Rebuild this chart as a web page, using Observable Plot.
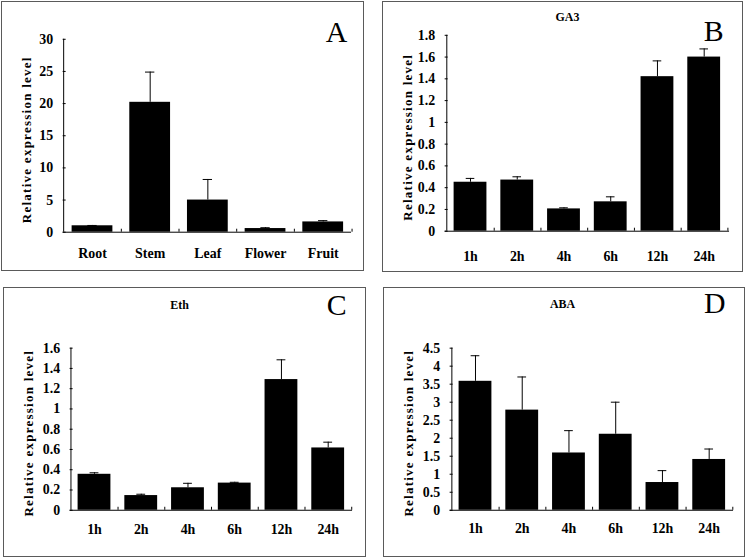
<!DOCTYPE html>
<html>
<head>
<meta charset="utf-8">
<script src="https://cdn.jsdelivr.net/npm/d3@7"></script>
<script src="https://cdn.jsdelivr.net/npm/@observablehq/plot@0.6"></script>
<style>
  html, body { margin: 0; padding: 0; background: #fff; }
  #root { position: relative; width: 747px; height: 558px; overflow: hidden; background: #fff; }
  .panel { position: absolute; border: 1px solid #5a5a5a; box-sizing: border-box; }
  .panel svg { position: absolute; left: -1px; top: -1px; overflow: visible; }
  .panel svg text { font-family: 'Liberation Serif', 'Times New Roman', serif; }
</style>
</head>
<body>
<div id="root"></div>
<script>
// ---- Data ----
const tissues = ["Root", "Stem", "Leaf", "Flower", "Fruit"];
const tissueValues = [1.0, 20.2, 5.0, 0.57, 1.6];
const tissueUpper = [1.05, 24.9, 8.2, 0.7, 1.8];
const tissueTicks = [0, 5, 10, 15, 20, 25, 30];

const times = ["1h", "2h", "4h", "6h", "12h", "24h"];

const ga3Values = [0.45, 0.47, 0.205, 0.27, 1.42, 1.60];
const ga3Upper = [0.485, 0.50, 0.215, 0.316, 1.565, 1.675];
const ga3Ticks = [0, 0.2, 0.4, 0.6, 0.8, 1, 1.2, 1.4, 1.6, 1.8];

const ethValues = [0.355, 0.145, 0.222, 0.268, 1.29, 0.615];
const ethUpper = [0.37, 0.158, 0.266, 0.276, 1.485, 0.672];
const ethTicks = [0, 0.2, 0.4, 0.6, 0.8, 1, 1.2, 1.4, 1.6];

const abaValues = [3.58, 2.78, 1.59, 2.11, 0.77, 1.41];
const abaUpper = [4.29, 3.70, 2.21, 3.00, 1.10, 1.70];
const abaTicks = [0, 0.5, 1, 1.5, 2, 2.5, 3, 3.5, 4, 4.5];

const yLabel = "Relative expression level";
const panelTitles = ["", "GA3", "Eth", "ABA"];
const panelLetters = ["A", "B", "C", "D"];

// ---- Layout (page pixels) ----
const layouts = [
  {box: [1, 1, 363, 270],   frame: [63, 39, 353, 233],  title: null,       letter: [338, 32], xPad: 16},
  {box: [382, 1, 742, 271], frame: [445, 35, 731, 232], title: [568, 17],  letter: [715, 31], xPad: 20},
  {box: [3, 287, 365, 556], frame: [70, 348, 354, 511], title: [180, 305], letter: [338, 305], xPad: 14},
  {box: [383, 287, 744, 556], frame: [450, 348, 735, 511], title: [563, 304], letter: [716, 303], xPad: 13}
];

const panels = [
  {cats: tissues, values: tissueValues, upper: tissueUpper, ticks: tissueTicks},
  {cats: times, values: ga3Values, upper: ga3Upper, ticks: ga3Ticks},
  {cats: times, values: ethValues, upper: ethUpper, ticks: ethTicks},
  {cats: times, values: abaValues, upper: abaUpper, ticks: abaTicks}
];

const FONT = "'Liberation Serif', 'Times New Roman', serif";
const root = document.getElementById("root");
const fmt = d => String(+d.toFixed(2));

panels.forEach((p, i) => {
  const L = layouts[i];
  const [x0, y0, x1, y1] = L.box;
  const [fl, ft, fr, fb] = L.frame;
  const W = x1 - x0 + 1, H = y1 - y0 + 1;
  const frameW = fr - fl, frameH = fb - ft;
  const n = p.cats.length;
  const step = frameW / n;
  const pad = 0.3;
  const bw = step * (1 - pad);
  const cap = 9;
  const capInset = (bw - cap) / 2;
  const yMax = p.ticks[p.ticks.length - 1];
  const data = p.cats.map((c, k) => ({cat: c, v: p.values[k], hi: p.upper[k]}));

  const marks = [
    Plot.barY(data, {x: "cat", y: "v", fill: "black"}),
    Plot.ruleX(data, {x: "cat", y1: "v", y2: "hi", stroke: "black", strokeWidth: 1}),
    Plot.tickY(data, {x: "cat", y: "hi", stroke: "black", insetLeft: capInset, insetRight: capInset}),
    Plot.ruleY([0], {stroke: "black"}),
    Plot.ruleX([p.cats[0]], {x: d => d, dx: -step / 2, y1: 0, y2: yMax, stroke: "black"}),
    Plot.tickY(p.ticks, {y: d => d, insetRight: frameW - 3, stroke: "black"}),
    Plot.tickX(p.cats, {x: d => d, dx: step / 2, insetTop: frameH - 3, stroke: "black"}),
    Plot.axisY({ticks: p.ticks, tickSize: 0, tickPadding: 10, tickFormat: fmt, label: null,
                fontSize: 14, fontWeight: "bold", fill: "black"}),
    Plot.axisX({tickSize: 0, tickPadding: L.xPad, label: null, fontSize: 14, fontWeight: "bold", fill: "black"}),
    Plot.text([yLabel], {frameAnchor: "left", rotate: -90, textAnchor: "middle", lineAnchor: "middle",
                         dx: -(fl - x0 - 25), dy: 4, text: d => d,
                         fontSize: 13, fontWeight: "bold", fill: "black"}),
    Plot.text([panelLetters[i]], {frameAnchor: "top-left", dx: L.letter[0] - fl, dy: L.letter[1] - ft,
                                  text: d => d, fontSize: 30, fill: "black", textAnchor: "middle", lineAnchor: "middle"})
  ];
  if (L.title) {
    marks.push(Plot.text([panelTitles[i]], {frameAnchor: "top-left", dx: L.title[0] - fl, dy: L.title[1] - ft,
      text: d => d, fontSize: 12, fontWeight: "bold", fill: "black", textAnchor: "middle", lineAnchor: "middle"}));
  }

  const chart = Plot.plot({
    width: W,
    height: H,
    marginLeft: fl - x0,
    marginRight: x0 + W - fr,
    marginTop: ft - y0,
    marginBottom: y0 + H - fb,
    style: {fontFamily: FONT, background: "transparent", color: "black", overflow: "visible"},
    x: {type: "band", domain: p.cats, paddingInner: pad, paddingOuter: pad / 2, axis: null},
    y: {domain: [0, yMax], nice: false, axis: null},
    marks
  });

  // widen spacing of the y-axis title like the original figure
  d3.select(chart).selectAll("text")
    .filter(function () { return this.textContent === yLabel; })
    .attr("letter-spacing", 1.3);

  const div = document.createElement("div");
  div.className = "panel";
  div.style.left = x0 + "px";
  div.style.top = y0 + "px";
  div.style.width = W + "px";
  div.style.height = H + "px";
  div.appendChild(chart);
  root.appendChild(div);
});
</script>
</body>
</html>
